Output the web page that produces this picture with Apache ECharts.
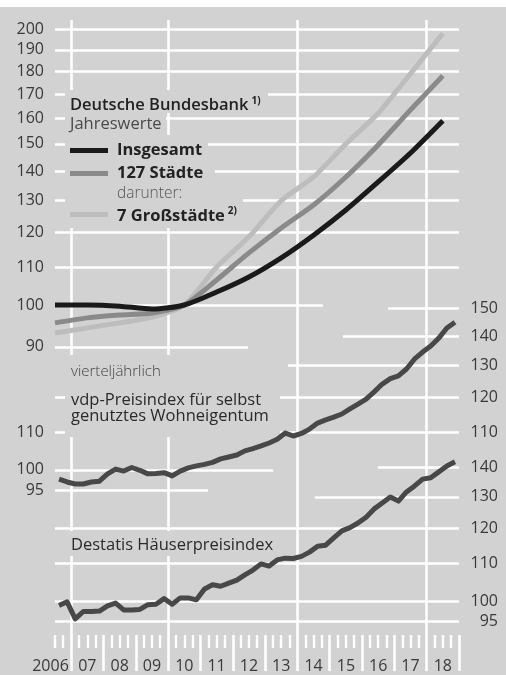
<!DOCTYPE html>
<html><head><meta charset="utf-8">
<script src="https://cdn.jsdelivr.net/npm/echarts@6/dist/echarts.min.js"></script>
<style>html,body{margin:0;padding:0;background:#fff}#c{width:506px;height:675px}</style>
</head><body><div id="c"></div>
<script>
// ---- data ----
const years = [2006,2007,2008,2009,2010,2011,2012,2013,2014,2015,2016,2017,2018];
const insgesamt     = [100.0,100.0,99.7,99.0,100.0,103.3,107.3,112.6,119.2,127.0,136.3,146.6,159.0];
const staedte127    = [95.6,96.8,97.5,98.0,100.0,106.5,114.0,121.4,128.6,138.0,149.6,163.4,178.0];
const grossstaedte7 = [93.2,94.4,95.6,97.0,100.0,110.0,118.7,130.0,138.0,150.0,162.0,179.0,198.0];

const quarters = ['2006Q3','2006Q4',
 '2007Q1','2007Q2','2007Q3','2007Q4','2008Q1','2008Q2','2008Q3','2008Q4',
 '2009Q1','2009Q2','2009Q3','2009Q4','2010Q1','2010Q2','2010Q3','2010Q4',
 '2011Q1','2011Q2','2011Q3','2011Q4','2012Q1','2012Q2','2012Q3','2012Q4',
 '2013Q1','2013Q2','2013Q3','2013Q4','2014Q1','2014Q2','2014Q3','2014Q4',
 '2015Q1','2015Q2','2015Q3','2015Q4','2016Q1','2016Q2','2016Q3','2016Q4',
 '2017Q1','2017Q2','2017Q3','2017Q4','2018Q1','2018Q2','2018Q3','2018Q4'];
const vdp = [97.7,97.0,96.5,96.5,97.0,97.2,99.0,100.2,99.7,100.6,
             99.9,99.0,99.1,99.3,98.5,99.7,100.5,101.0,101.4,101.9,
             102.8,103.3,103.8,104.9,105.5,106.2,107.0,108.0,109.7,108.9,
             109.6,110.8,112.5,113.4,114.2,115.1,116.6,118.0,119.5,121.7,
             124.1,125.8,126.7,128.9,132.2,134.5,136.6,139.3,142.9,145.0];
const destatis = [98.9,99.8,95.6,97.4,97.4,97.5,98.8,99.5,97.8,97.8,
                  97.9,99.1,99.2,100.6,99.2,100.8,100.8,100.3,103.1,104.2,
                  103.8,104.6,105.4,106.8,108.1,109.8,109.2,110.9,111.4,111.3,
                  111.9,113.1,114.8,115.1,117.2,119.3,120.3,121.7,123.5,126.1,
                  128.0,129.9,128.6,131.6,133.6,135.9,136.4,138.4,140.5,142.0];

const topTicks = [90,100,110,120,130,140,150,160,170,180,190,200];
const vdpLeftTicks = [95,100,110];
const vdpRightTicks = [110,120,130,140,150];
const destatisTicks = [95,100,110,120,130,140];

// ---- styling / layout ----
const BG = '#d2d2d2', WHITE = '#ffffff', TXT = '#3a3a3a';
const FONT = '"Open Sans", "Noto Sans", sans-serif';
const X0 = 2006.5, X1 = 2019;
const qx = s => +s.slice(0,4) + (+s.slice(5) - 0.5) / 4;

const yearCenters = years.map(y => y + 0.5);
const yearBounds = years.map(y => y + 1);
const quarterTicks = [2006.5, 2006.75];
years.slice(1).forEach(y => quarterTicks.push(y + 0.25, y + 0.5, y + 0.75));

const seg = (v, a, b) => [{coord: [a, v]}, {coord: [b, v]}];
const gridLine = {color: WHITE, width: 2.6, type: 'solid'};
const mk = (data) => ({silent: true, symbol: 'none', z: 1, animation: false,
  label: {show: false}, lineStyle: gridLine, emphasis: {disabled: true}, data});

const topGrid = [
  seg(200, X0, X1), seg(190, X0, X1), seg(180, X0, X1), seg(170, X0, X1),
  seg(160, X0, X1), seg(150, X0, X1), seg(140, X0, X1), seg(130, X0, X1),
  seg(120, X0, X1), seg(110, X0, X1), seg(100, X0, 2014.79), seg(90, X0, 2012.47),
  {xAxis: 2007}, {xAxis: 2010}, {xAxis: 2014}, {xAxis: 2018}
];
const vdpGrid = [
  seg(150, 2016.8, X1), seg(140, 2015.41, X1), seg(130, 2013.71, X1),
  seg(120, X0, X1), seg(110, X0, X1), seg(100, X0, 2013.25), seg(95, X0, 2011.23)
];
const destGrid = [
  seg(140, 2016.49, X1), seg(130, 2014.54, X1), seg(120, X0, X1),
  seg(110, X0, X1), seg(100, X0, X1), seg(95, X0, X1)
];

const yBase = (min, max, pos, ticks, extra) => ({
  type: 'log', logBase: 10, min, max, position: pos,
  axisLine: {show: false}, axisTick: {show: false}, splitLine: {show: false},
  axisLabel: Object.assign({customValues: ticks, fontSize: 16, fontFamily: FONT, color: TXT,
    margin: 11}, extra || {})
});

const chart = echarts.init(document.getElementById('c'), null, {renderer: 'canvas'});

const lineS = (name, data, color, width, yIdx, smooth, z, markData) => ({
  type: 'line', name, data, xAxisIndex: 0, yAxisIndex: yIdx, symbol: 'none',
  smooth, z, animation: false, silent: true,
  lineStyle: {color, width, cap: 'butt', join: 'round'},
  markLine: markData ? mk(markData) : undefined
});

const sup = {fontSize: 10, fontWeight: 700, fontFamily: FONT, fill: '#222', padding: [0, 0, 9, 3]};
const txt = (x, y, text, size, weight, fill, rich) => ({
  type: 'text', x, y, z: 30, silent: true,
  style: {text, fontSize: size, fontWeight: weight, fontFamily: FONT, fill,
    align: 'left', verticalAlign: 'middle', rich}
});
const box = (x, y, w, h) => ({type: 'rect', z: 1.5, silent: true,
  shape: {x, y, width: w, height: h}, style: {fill: BG}});
const sw = (y, color) => ({type: 'rect', z: 30, silent: true,
  shape: {x: 70, y: y - 2.6, width: 38, height: 5.2}, style: {fill: color}});

chart.setOption({
  backgroundColor: BG,
  animation: false,
  grid: {left: 55, right: 47, top: 20, bottom: 40, containLabel: false, outerBoundsMode: 'none'},
  xAxis: [
    {type: 'value', min: X0, max: X1, position: 'bottom',
     axisLine: {show: false}, splitLine: {show: false},
     axisTick: {show: true, customValues: quarterTicks, length: 13,
       lineStyle: {color: WHITE, width: 2.4}},
     axisLabel: {customValues: yearCenters, fontSize: 16, fontFamily: FONT, color: TXT,
       margin: 23, lineHeight: 16,
       formatter: v => {
         const y = Math.floor(v);
         return y === years[0] ? '{f|' + y + '}' : String(y).slice(2);
       },
       rich: {f: {fontSize: 16, fontFamily: FONT, color: TXT, padding: [0, 9, 0, 0], lineHeight: 16}}}},
    {type: 'value', min: X0, max: X1, position: 'bottom',
     axisLine: {show: false}, splitLine: {show: false},
     axisTick: {show: true, customValues: yearBounds, length: 36,
       lineStyle: {color: WHITE, width: 2.6}},
     axisLabel: {show: false}}
  ],
  yAxis: [
    yBase(43.58, 204.86, 'left', topTicks),
    yBase(66.0, 310.2, 'left', vdpLeftTicks),
    yBase(66.0, 310.2, 'right', vdpRightTicks, {align: 'right', margin: 39}),
    yBase(91.81, 431.5, 'right', destatisTicks, {align: 'right', margin: 39})
  ],
  series: [
    lineS('7 Großstädte', years.map((y, i) => [y + 0.5, grossstaedte7[i]]), '#bdbdbd', 5, 0, 0.25, 2, topGrid),
    lineS('127 Städte', years.map((y, i) => [y + 0.5, staedte127[i]]), '#8a8a8a', 5, 0, 0.25, 3),
    lineS('Insgesamt', years.map((y, i) => [y + 0.5, insgesamt[i]]), '#1b1a19', 5, 0, 0.25, 4),
    lineS('vdp', quarters.map((q, i) => [qx(q), vdp[i]]), '#4a4846', 5, 1, false, 3, vdpGrid),
    lineS('Destatis', quarters.map((q, i) => [qx(q), destatis[i]]), '#4a4846', 5, 3, false, 3, destGrid)
  ],
  graphic: [
    {type: 'rect', z: 30, silent: true, shape: {x: 0, y: 0, width: 506, height: 7}, style: {fill: WHITE}},
    box(65, 90, 203, 23),
    box(65, 113, 101, 22),
    box(65, 135, 143, 25),
    box(65, 160, 150, 25),
    box(65, 185, 178, 43),
    box(65, 355, 107, 28),
    box(65, 383, 215, 54),
    box(65, 531, 215, 25),
    txt(70, 105.5, 'Deutsche Bundesbank{s|1)}', 16.5, 600, '#222', {s: sup}),
    txt(70, 124.5, 'Jahreswerte', 16.5, 400, '#4a4a4a'),
    sw(150.5, '#1b1a19'), txt(117, 150, 'Insgesamt', 16.5, 700, '#222'),
    sw(173.5, '#8a8a8a'), txt(117, 173.5, '127 Städte', 16.5, 700, '#222'),
    txt(117, 194, 'darunter:', 15.5, 300, '#555'),
    sw(214.5, '#bdbdbd'), txt(117, 216, '7 Großstädte{s|2)}', 16.5, 700, '#222', {s: sup}),
    txt(71, 372, 'vierteljährlich', 15, 300, '#444'),
    txt(71, 400, 'vdp-Preisindex für selbst', 16.5, 500, '#2a2a2a'),
    txt(71, 416.5, 'genutztes Wohneigentum', 16.5, 500, '#2a2a2a'),
    txt(71, 545, 'Destatis Häuserpreisindex', 16.5, 400, '#2a2a2a')
  ]
});
</script></body></html>
